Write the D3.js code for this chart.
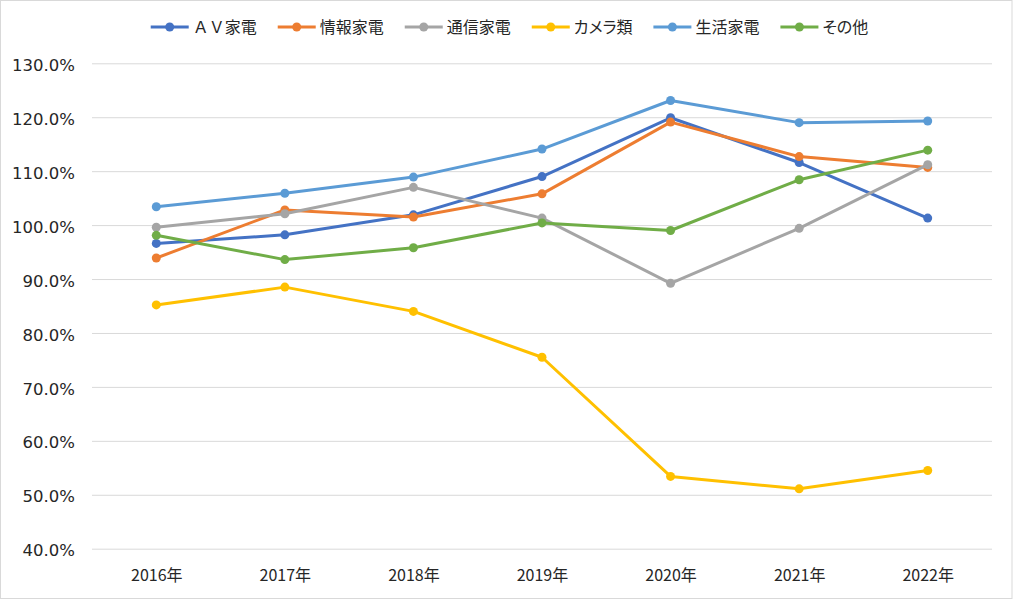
<!DOCTYPE html>
<html>
<head>
<meta charset="utf-8">
<script src="https://cdn.jsdelivr.net/npm/d3@7"></script>
<style>
  body { margin: 0; background: #fff; }
  svg { display: block; }
</style>
</head>
<body>
<div id="chart"></div>
<script>
// index of each product category vs. base year
const years = ["2016年", "2017年", "2018年", "2019年", "2020年", "2021年", "2022年"];
const seriesNames = ["ＡＶ家電", "情報家電", "通信家電", "カメラ類", "生活家電", "その他"];
const seriesColors = ["#4472C4", "#ED7D31", "#A5A5A5", "#FFC000", "#5B9BD5", "#70AD47"];
const av      = [96.6, 98.2, 101.9, 109.0, 119.9, 111.6, 101.3];
const info    = [93.9, 102.8, 101.5, 105.8, 119.1, 112.7, 110.7];
const comm    = [99.6, 102.1, 107.0, 101.3, 89.2, 99.4, 111.2];
const camera  = [85.2, 88.5, 84.0, 75.5, 53.4, 51.1, 54.5];
const living  = [103.4, 105.9, 108.9, 114.1, 123.1, 119.0, 119.3];
const other   = [98.1, 93.6, 95.8, 100.4, 99.0, 108.4, 113.9];
const yTicks  = [40, 50, 60, 70, 80, 90, 100, 110, 120, 130];

const seriesValues = [av, info, comm, camera, living, other];

const W = 1013, H = 600;
const plot = {left: 92, right: 992, top: 63.3, bottom: 548.7};

const svg = d3.select("#chart")
    .append("svg")
        .attr("width", W)
        .attr("height", H);

svg.append("rect")
    .attr("x", 0.5).attr("y", 0.5)
    .attr("width", W - 1.5).attr("height", H - 2)
    .attr("fill", "#fff")
    .attr("stroke", "#d9d9d9");

const x = d3.scalePoint()
    .domain(years)
    .range([plot.left, plot.right])
    .padding(0.5);

const y = d3.scaleLinear()
    .domain([40, 130])
    .range([plot.bottom, plot.top]);

// y axis + gridlines
const yAxis = svg.append("g")
    .attr("transform", `translate(${plot.left},0)`)
    .call(d3.axisLeft(y)
        .tickValues(yTicks)
        .tickSize(-(plot.right - plot.left))
        .tickPadding(17)
        .tickFormat(d => d.toFixed(1) + "%"));
yAxis.select(".domain").remove();
yAxis.selectAll("line").attr("stroke", "#d9d9d9").attr("stroke-width", 1);
yAxis.selectAll("text")
    .attr("font-family", "'DejaVu Sans', Verdana, sans-serif")
    .attr("font-size", 16.5)
    .attr("fill", "#262626")
    .attr("dy", "0.43em");

// x axis
const xAxis = svg.append("g")
    .attr("transform", `translate(0,${plot.bottom})`)
    .call(d3.axisBottom(x).tickSize(0).tickPadding(21));
xAxis.select(".domain").remove();
xAxis.selectAll("text")
    .attr("font-family", "'Noto Sans CJK JP', sans-serif")
    .attr("font-size", 16)
    .attr("fill", "#262626");

// lines
const line = d3.line()
    .x((d, i) => x(years[i]))
    .y(d => y(d));

seriesValues.forEach((vals, s) => {
    const g = svg.append("g");
    g.append("path")
        .datum(vals)
        .attr("fill", "none")
        .attr("stroke", seriesColors[s])
        .attr("stroke-width", 3)
        .attr("stroke-linejoin", "round")
        .attr("stroke-linecap", "round")
        .attr("d", line);
    g.selectAll("circle")
        .data(vals)
        .join("circle")
            .attr("cx", (d, i) => x(years[i]))
            .attr("cy", d => y(d))
            .attr("r", 4.5)
            .attr("fill", seriesColors[s]);
});

// legend
const legend = svg.append("g");
let lx = 0;
seriesNames.forEach((name, i) => {
    const item = legend.append("g").attr("transform", `translate(${lx},0)`);
    item.append("line")
        .attr("x1", 0).attr("x2", 38)
        .attr("y1", 27).attr("y2", 27)
        .attr("stroke", seriesColors[i])
        .attr("stroke-width", 3);
    item.append("circle")
        .attr("cx", 19).attr("cy", 27).attr("r", 4.5)
        .attr("fill", seriesColors[i]);
    const t = item.append("text")
        .attr("x", 42).attr("y", 33)
        .attr("font-family", "'Noto Sans CJK JP', sans-serif")
        .attr("font-size", 16)
        .attr("fill", "#262626")
        .style("font-feature-settings", /[\u3040-\u30ff]/.test(name) ? "'palt'" : "normal")
        .text(name);
    lx += 42 + t.node().getComputedTextLength() + 21;
});
const legendWidth = lx - 21;
legend.attr("transform", `translate(${(W - legendWidth) / 2 + 3},0)`);
</script>
</body>
</html>
